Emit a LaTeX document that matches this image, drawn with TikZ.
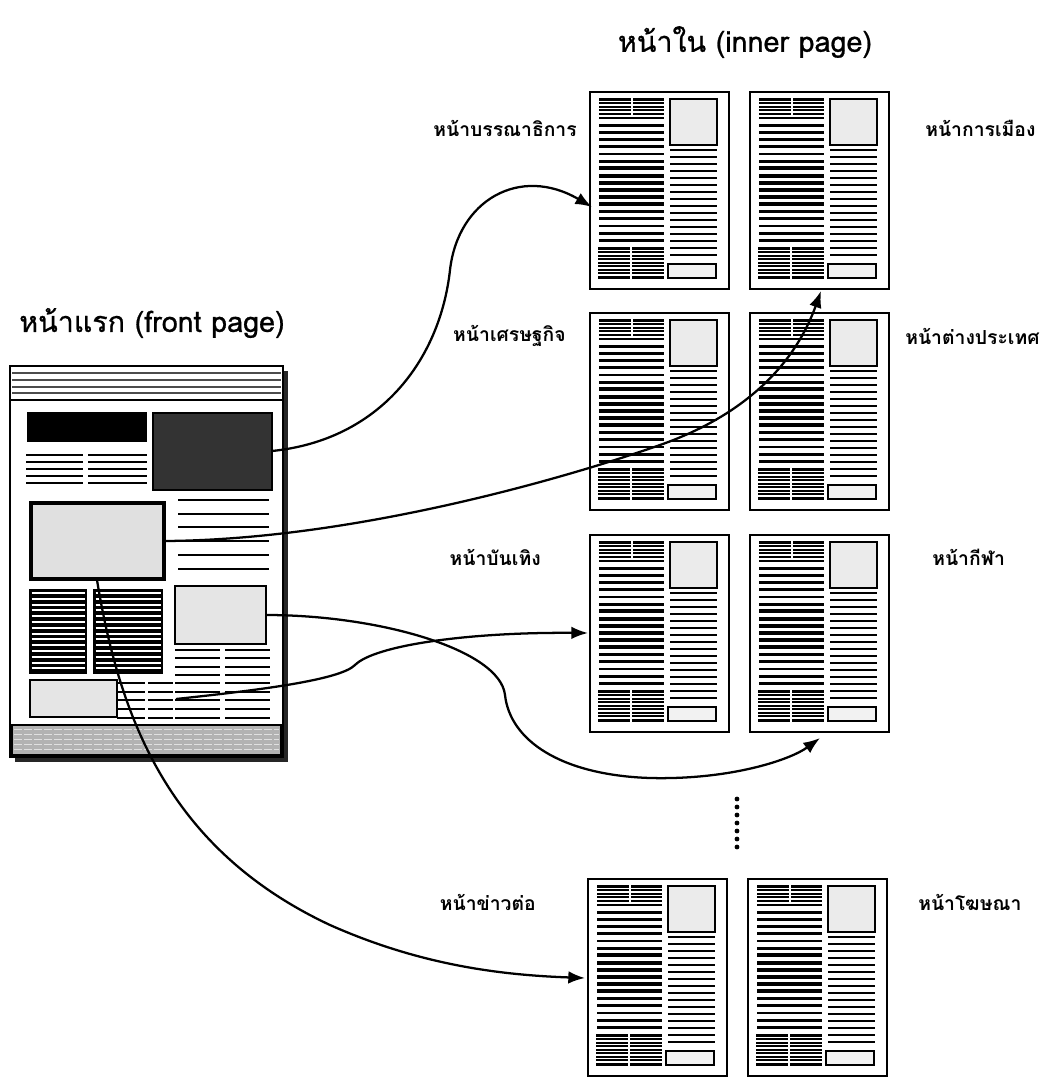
\documentclass[tikz,border=0pt]{standalone}
\usepackage{fontspec}
\newfontfamily\thaifont[Script=Thai]{Loma}
\newfontfamily\thaititle[Script=Thai,FakeBold=0.8]{Loma}
\usetikzlibrary{arrows.meta}
\tikzset{
  tline/.style={line width=2pt},
  bline/.style={line width=3pt},
  hatchw/.style={white,line width=0.8pt},
  innerpage/.pic={
    \draw[line width=1.6pt, fill=white] (0,0) rectangle (139,197);
    % top hatched blocks
    \foreach \xa/\xb in {9/41,43/74}{
      \fill (\xa,6) rectangle (\xb,23);
      \foreach \yy in {9.5,13,16.5,20} \draw[hatchw] (\xa,\yy) -- (\xb,\yy);
    }
    % left column lines
    \foreach \i in {0,...,17}{
      \pgfmathsetmacro{\yy}{26+7.2*\i}
      \ifnum\i>6 \ifnum\i<13
        \draw[bline] (9,\yy) -- (74,\yy);
      \else
        \draw[tline] (9,\yy) -- (74,\yy);
      \fi\else
        \draw[tline] (9,\yy) -- (74,\yy);
      \fi
    }
    % bottom hatched blocks
    \foreach \xa/\xb in {8/40,42/74}{
      \fill (\xa,155) rectangle (\xb,187);
      \foreach \yy in {158.5,162,165.5,169,172.5,176,179.5,183} \draw[hatchw] (\xa,\yy) -- (\xb,\yy);
    }
    % right image box
    \draw[line width=1.3pt, fill=black!8] (80,7) rectangle (127,53);
    % right column lines
    \foreach \i in {0,...,15}{
      \draw[tline] (80,58+7*\i) -- (127,58+7*\i);
    }
    % footer box
    \draw[line width=1.3pt, fill=black!5] (78,172) rectangle (126,186);
  }
}
\begin{document}
\begin{tikzpicture}[x=0.75pt,y=-0.75pt,
  conn/.style={line width=1.7pt, -{Latex[length=12.5pt,width=9.5pt]}},
  lbl/.style={font=\thaifont\bfseries\fontsize{14.5}{17}\selectfont, inner sep=0pt},
  ttl/.style={font=\thaititle\fontsize{21.5}{25}\selectfont, inner sep=0pt},
]
\useasboundingbox (0,0) rectangle (1054,1077);
\fill[white] (0,0) rectangle (1054,1077);

% ---------- titles ----------
\node[ttl, anchor=west] (ftitle) at (19,323) {หน้าแรก (front page)};
\node[ttl] (ititle) at (745,42) {หน้าใน (inner page)};

% ---------- front page ----------
\fill[black!85] (15,371) rectangle (288,762);
\draw[line width=2pt, fill=white] (10,366) rectangle (283,757);
\draw[line width=1.5pt] (10,400) -- (283,400);
\foreach \y in {373,380,387,393} \draw[line width=0.8pt, black!70] (12,\y) -- (281,\y);
\fill (27,412) rectangle (147,442);
\draw[line width=1.2pt, fill=black!80] (153,413) rectangle (272,490);
\foreach \y in {455,462,469,476,483} { \draw[tline] (26,\y) -- (83,\y); \draw[tline] (88,\y) -- (147,\y); }
\foreach \y in {500,514,527,541,555,569} \draw[tline] (178,\y) -- (269,\y);
\draw[line width=3.5pt, fill=black!12] (31,503) rectangle (164,579);
\foreach \xa/\xb in {29/87,93/163}{
  \fill (\xa,589) rectangle (\xb,674);
  \foreach \k in {0,...,13} \draw[white,line width=1.6pt] (\xa+2.5,593+5.8*\k) -- (\xb-2.5,593+5.8*\k);
}
\draw[line width=1.2pt, fill=black!10] (175,586) rectangle (266,644);
\foreach \y in {650,658,667,675,683,692,700,709,718} { \draw[tline] (175,\y) -- (220,\y); \draw[tline] (225,\y) -- (270,\y); }
\foreach \y in {683,692,700,709,718} { \draw[tline] (117,\y) -- (145,\y); \draw[tline] (148,\y) -- (173,\y); }
\draw[line width=1.2pt, fill=black!10] (30,680) rectangle (117,717);
\draw[line width=1pt, fill=black!30] (12,725) rectangle (281,755);
\foreach \y in {729,734,739,744,749} \draw[black!12, line width=0.6pt, dash pattern=on 6pt off 1.5pt] (14,\y) -- (279,\y);

% ---------- inner pages ----------
\pic (p1) at (590,92) {innerpage};
\pic (p2) at (750,92) {innerpage};
\pic (p3) at (590,313) {innerpage};
\pic (p4) at (750,313) {innerpage};
\pic (p5) at (590,535) {innerpage};
\pic (p6) at (750,535) {innerpage};
\pic (p7) at (588,879) {innerpage};
\pic (p8) at (748,879) {innerpage};

% ---------- labels ----------
\node[lbl, anchor=east] (l1) at (577,128) {หน้าบรรณาธิการ};
\node[lbl, anchor=west] (l2) at (925,128) {หน้าการเมือง};
\node[lbl, anchor=east] (l3) at (566,336) {หน้าเศรษฐกิจ};
\node[lbl, anchor=west] (l4) at (905,336) {หน้าต่างประเทศ};
\node[lbl, anchor=east] (l5) at (541,557) {หน้าบันเทิง};
\node[lbl, anchor=west] (l6) at (932,557) {หน้ากีฬา};
\node[lbl, anchor=east] (l7) at (536,902) {หน้าข่าวต่อ};
\node[lbl, anchor=west] (l8) at (918,902) {หน้าโฆษณา};

% ---------- dots ----------
\foreach \k in {0,...,6} \fill (737,799+8*\k) circle[radius=1.8pt];

% ---------- connectors ----------
\coordinate (s1) at (272,451); \coordinate (e1) at (592,207);
\coordinate (s2) at (164,541); \coordinate (e2) at (821,291);
\coordinate (s3) at (266,615); \coordinate (e3) at (820,738);
\coordinate (s4) at (176,699); \coordinate (e4) at (588,633);
\coordinate (s5) at (97,580);  \coordinate (e5) at (585,978);

\draw[conn] (s1) .. controls (380,440) and (440,360) .. (450,270) .. controls (458,200) and (520,165) .. (e1);
\draw[conn] (s2) .. controls (350,540) and (560,480) .. (660,445) .. controls (760,410) and (800,350) .. (e2);
\draw[conn] (s3) .. controls (380,615) and (500,650) .. (505,695) .. controls (510,740) and (560,775) .. (650,778) .. controls (730,780) and (790,760) .. (e3);
\draw[conn] (s4) .. controls (260,690) and (340,680) .. (355,665) .. controls (375,645) and (470,632) .. (e4);
\draw[conn] (s5) .. controls (120,720) and (170,850) .. (330,925) .. controls (420,965) and (500,975) .. (e5);
\end{tikzpicture}
\end{document}
